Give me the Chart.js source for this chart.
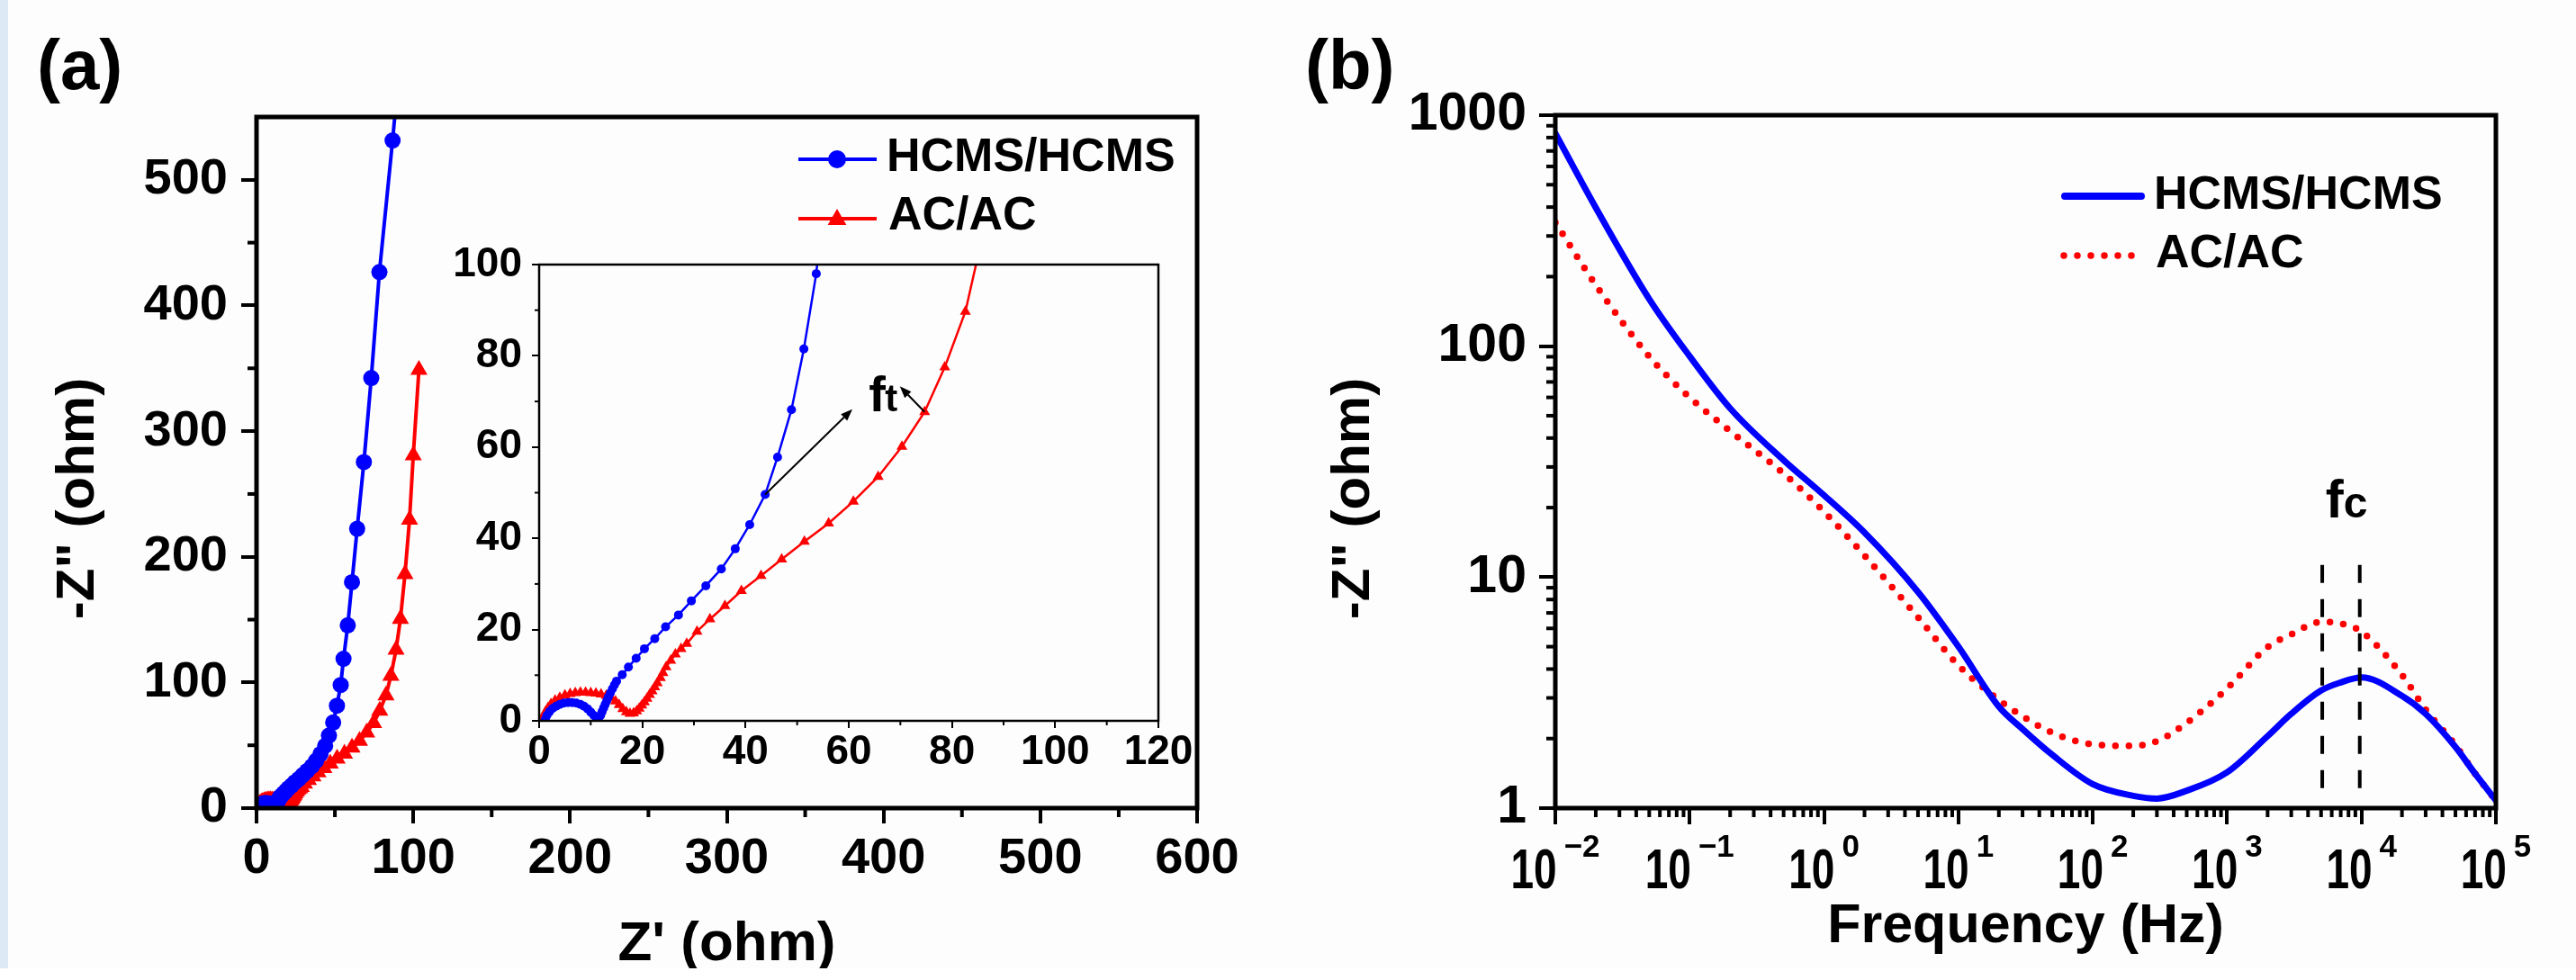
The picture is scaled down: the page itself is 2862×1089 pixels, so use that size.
<!DOCTYPE html>
<html><head><meta charset="utf-8">
<script src="https://cdn.jsdelivr.net/npm/chart.js@4.4.0/dist/chart.umd.min.js"></script>
<style>
html,body{margin:0;padding:0;background:#fff;}
#wrap{position:relative;width:2862px;height:1089px;overflow:hidden;background:#fdfdfd;}
canvas{position:absolute;top:0;}
#strip{position:absolute;left:0;top:0;width:9px;height:1089px;background:#dde9f5;}
#bottom{position:absolute;left:0;top:1076px;width:2862px;height:13px;background:#fff;}
</style></head><body>
<div id="wrap">
<canvas id="ca" width="1431" height="1089" style="left:0"></canvas>
<canvas id="ci" width="1431" height="1089" style="left:0"></canvas>
<canvas id="cb" width="1431" height="1089" style="left:1431px"></canvas>
<div id="strip"></div><div id="bottom"></div>
</div>
<script>
// ---------- data ----------
const seriesNames = ['HCMS/HCMS', 'AC/AC'];
// Nyquist (Z', -Z'')
const hcmsZre = [1.2,1.5,2.0,2.6,3.3,4.0,4.8,5.6,6.4,7.2,8.0,8.7,9.4,10.0,10.6,11.1,11.5,11.9,12.2,12.5,12.8,13.1,13.4,13.8,14.2,14.6,15.0,16.1,17.3,18.8,20.4,22.4,24.5,27.0,29.5,32.3,35.3,38.0,40.8,43.8,46.2,48.9,51.3,53.7,55.5,58.2,60.9,64.2,68.5,73.2,78.4,86.8,95.5];
const hcmsZim = [0.3,1.2,2.0,2.7,3.2,3.6,3.9,4.0,4.0,3.9,3.6,3.2,2.6,1.9,1.2,0.6,0.4,1.2,2.0,2.8,3.6,4.4,5.2,6.1,7.0,7.9,8.7,10.1,11.8,13.7,15.8,18.0,20.6,23.2,26.3,29.6,33.3,37.7,43.0,49.6,57.8,68.2,81.5,98.0,118.8,145.5,179.8,222.3,275.4,342.3,426.6,531.3,650];
const acZre = [0.5,0.8,1.2,1.7,2.3,3.1,4.0,5.0,6.0,7.0,8.0,9.0,10.0,11.0,12.0,13.0,14.0,14.8,15.5,16.2,16.9,17.6,18.3,18.9,19.4,19.9,20.4,20.9,21.4,21.9,22.4,22.9,23.5,24.0,24.6,25.5,26.4,27.5,28.6,30.6,33.1,36.0,39.2,43.0,47.0,51.4,56.1,60.9,65.7,70.3,74.7,78.6,82.6,85.7,89.0,91.8,94.7,97.6,100.0,103.6];
const acZim = [0.2,1.0,1.9,2.8,3.7,4.5,5.1,5.6,5.9,6.1,6.2,6.2,6.1,6.0,5.8,5.5,5.0,4.3,3.5,2.6,1.9,1.6,1.7,2.1,2.7,3.4,4.1,4.9,5.7,6.5,7.4,8.3,9.4,10.5,11.8,13.2,14.6,15.8,16.9,19.6,22.3,25.2,28.5,31.8,35.4,39.3,43.3,48.1,53.5,60.1,67.7,77.5,89.7,105.2,126.0,150.5,186.2,229.5,280.8,348.8];
// Bode (-Z'' vs frequency)
const freqHz = [0.01,0.02,0.05,0.1,0.2,0.5,1,2,5,10,20,30,50,100,200,300,500,1000,2000,3000,5000,7000,10000,20000,30000,50000,70000,100000];
const hcmsBode = [835,398,160,90.4,53.8,32.1,22.6,15.6,8.63,5.0,2.75,2.2,1.70,1.27,1.13,1.10,1.19,1.43,2.05,2.56,3.23,3.5,3.68,3.06,2.56,1.84,1.41,1.08];
const acBode = [343,184,90.2,60,42.9,28.1,19.2,12.4,6.7,4.15,2.94,2.5,2.12,1.89,1.86,1.95,2.34,3.3,4.98,5.65,6.4,6.3,5.8,3.77,2.67,1.87,1.41,1.08];
// ticks
const mainXTicks = [0,100,200,300,400,500,600];
const mainXMinor = [50,150,250,350,450,550];
const mainYTicks = [0,100,200,300,400,500];
const mainYMinor = [50,150,250,350,450];
const insetXTicks = [0,20,40,60,80,100,120];
const insetXMinor = [10,30,50,70,90,110];
const insetYTicks = [0,20,40,60,80,100];
const insetYMinor = [10,30,50,70,90];
const bodeXTicks = [0.01,0.1,1,10,100,1000,10000,100000];
const bodeXExp = ['\u22122','\u22121','0','1','2','3','4','5'];
const bodeYTicks = [1,10,100,1000];
const minorMult = [2,3,4,5,6,7,8,9];
// annotations (data coordinates)
const ftArrowBlue = [[43.8,49.6],[60.7,68.3]];
const ftArrowRed = [[74.7,67.7],[69.9,73.3]];
const ftPos = [63.9,67.9];
const fcFreqs = [5100,9700];
const fcRange = [1.2,11.3];
const fcPos = [5400,18.1];

// ---------- style ----------
const FAM = "'Liberation Sans', Arial, sans-serif";
const BLUE = '#0000ff', RED = '#ff0000';
const fnt = s => 'bold ' + s + 'px ' + FAM;
const ff = s => ({family: FAM, size: s, weight: 'bold'});

function seg(ctx,x1,y1,x2,y2){ctx.beginPath();ctx.moveTo(x1,y1);ctx.lineTo(x2,y2);ctx.stroke();}
function tri(ctx,x,y,r){ctx.beginPath();for(let k=0;k<3;k++){const a=k*2*Math.PI/3;const px=x+Math.sin(a)*r,py=y-Math.cos(a)*r;k?ctx.lineTo(px,py):ctx.moveTo(px,py);}ctx.closePath();ctx.fill();}
function circ(ctx,x,y,r){ctx.beginPath();ctx.arc(x,y,r,0,2*Math.PI);ctx.fill();}
function frame(ctx,a,w){ctx.save();ctx.strokeStyle='#000';ctx.lineWidth=w;ctx.strokeRect(a.left,a.top,a.right-a.left,a.bottom-a.top);ctx.restore();}
function minorX(ctx,sc,vals,y,len,w){ctx.save();ctx.strokeStyle='#000';ctx.lineWidth=w;vals.forEach(v=>{const p=sc.getPixelForValue(v);seg(ctx,p,y,p,y+len);});ctx.restore();}
function minorY(ctx,sc,vals,x,len,w){ctx.save();ctx.strokeStyle='#000';ctx.lineWidth=w;vals.forEach(v=>{const p=sc.getPixelForValue(v);seg(ctx,x,p,x-len,p);});ctx.restore();}
function vtitle(ctx,text,x,y,size){ctx.save();ctx.fillStyle='#000';ctx.font=fnt(size);ctx.translate(x,y);ctx.rotate(-Math.PI/2);ctx.textAlign='center';ctx.textBaseline='middle';ctx.fillText(text,0,0);ctx.restore();}
function label(ctx,text,x,y,size){ctx.save();ctx.fillStyle='#000';ctx.font=fnt(size);ctx.textAlign='left';ctx.textBaseline='alphabetic';ctx.fillText(text,x,y);ctx.restore();}
function arrow(ctx,x1,y1,x2,y2){ctx.save();ctx.strokeStyle='#000';ctx.fillStyle='#000';ctx.lineWidth=2;const ang=Math.atan2(y2-y1,x2-x1);const hl=13,hw=5;const bx=x2-Math.cos(ang)*hl,by=y2-Math.sin(ang)*hl;seg(ctx,x1,y1,bx,by);ctx.beginPath();ctx.moveTo(x2,y2);ctx.lineTo(bx-Math.sin(ang)*hw,by+Math.cos(ang)*hw);ctx.lineTo(bx+Math.sin(ang)*hw,by-Math.cos(ang)*hw);ctx.closePath();ctx.fill();ctx.restore();}

const common = {responsive:false, animation:false, devicePixelRatio:1, events:[], maintainAspectRatio:false,
  plugins:{legend:{display:false}, tooltip:{enabled:false}, title:{display:false}}};
function setTicks(arr){return s=>{s.ticks=arr.map(v=>({value:v}));};}
const gridOpt = (tl,w) => ({display:true, drawOnChartArea:false, drawTicks:true, tickLength:tl, lineWidth:w, color:'#000'});

// ---------- panel (a) main ----------
const plugA = {id:'plugA', afterDraw(chart){
  const {ctx, chartArea:a, scales:{x,y}} = chart;
  frame(ctx,a,5);
  minorX(ctx,x,mainXMinor,a.bottom,10,4);
  minorY(ctx,y,mainYMinor,a.left,10,4);
  label(ctx,'(a)',41,99,78);
  vtitle(ctx,'-Z" (ohm)',87,554,60);
  ctx.save();
  ctx.lineWidth=4; ctx.strokeStyle=BLUE; seg(ctx,887,177,974,177);
  ctx.fillStyle=BLUE; circ(ctx,930,177,10);
  ctx.strokeStyle=RED; seg(ctx,887,243,974,243);
  ctx.fillStyle=RED; tri(ctx,930,244,12);
  ctx.restore();
  label(ctx,seriesNames[0],985,190,52);
  label(ctx,seriesNames[1],987,255,52);
}};
new Chart(document.getElementById('ca'), {
  type:'line',
  data:{datasets:[
    {label:seriesNames[0], data:hcmsZre.map((v,i)=>({x:v,y:hcmsZim[i]})), borderColor:BLUE, backgroundColor:BLUE, borderWidth:4, pointStyle:'circle', pointRadius:9, pointBorderWidth:0, tension:0},
    {label:seriesNames[1], data:acZre.map((v,i)=>({x:v,y:acZim[i]})), borderColor:RED, backgroundColor:RED, borderWidth:4, pointStyle:'triangle', pointRadius:11, pointBorderWidth:0, tension:0}
  ]},
  options:Object.assign({}, common, {
    layout:{padding:{left:0, top:130, right:101, bottom:0}},
    scales:{
      x:{type:'linear', min:0, max:600, afterBuildTicks:setTicks(mainXTicks), afterFit:s=>{s.height=191;},
        grid:gridOpt(17,4), border:{display:false},
        ticks:{font:ff(56), color:'#000', padding:6, maxRotation:0, autoSkip:false},
        title:{display:true, text:"Z' (ohm)", font:ff(62), color:'#000', padding:{top:0,bottom:2}}},
      y:{type:'linear', min:0, max:550, afterBuildTicks:setTicks(mainYTicks), afterFit:s=>{s.width=285;},
        grid:gridOpt(17,4), border:{display:false},
        ticks:{font:ff(56), color:'#000', padding:15, autoSkip:false}}
    }
  }),
  plugins:[plugA]
});

// ---------- panel (a) inset ----------
const plugI = {id:'plugI', afterDraw(chart){
  const {ctx, chartArea:a, scales:{x,y}} = chart;
  frame(ctx,a,2.5);
  minorX(ctx,x,insetXMinor,a.bottom,5,2);
  minorY(ctx,y,insetYMinor,a.left,5,2);
  arrow(ctx,x.getPixelForValue(ftArrowBlue[0][0]),y.getPixelForValue(ftArrowBlue[0][1]),x.getPixelForValue(ftArrowBlue[1][0]),y.getPixelForValue(ftArrowBlue[1][1]));
  arrow(ctx,x.getPixelForValue(ftArrowRed[0][0]),y.getPixelForValue(ftArrowRed[0][1]),x.getPixelForValue(ftArrowRed[1][0]),y.getPixelForValue(ftArrowRed[1][1]));
  const fx=x.getPixelForValue(ftPos[0]), fy=y.getPixelForValue(ftPos[1]);
  label(ctx,'f',fx,fy,56);
  label(ctx,'t',fx+18,fy,42);
}};
new Chart(document.getElementById('ci'), {
  type:'line',
  data:{datasets:[
    {label:seriesNames[0], data:hcmsZre.map((v,i)=>({x:v,y:hcmsZim[i]})), borderColor:BLUE, backgroundColor:BLUE, borderWidth:2.5, pointStyle:'circle', pointRadius:5, pointBorderWidth:0, tension:0},
    {label:seriesNames[1], data:acZre.map((v,i)=>({x:v,y:acZim[i]})), borderColor:RED, backgroundColor:RED, borderWidth:2.5, pointStyle:'triangle', pointRadius:7, pointBorderWidth:0, tension:0}
  ]},
  options:Object.assign({}, common, {
    layout:{padding:{left:0, top:294, right:144, bottom:0}},
    scales:{
      x:{type:'linear', min:0, max:120, afterBuildTicks:setTicks(insetXTicks), afterFit:s=>{s.height=288;},
        grid:gridOpt(8,2), border:{display:false},
        ticks:{font:ff(46), color:'#000', padding:0, maxRotation:0, autoSkip:false}},
      y:{type:'linear', min:0, max:100, afterBuildTicks:setTicks(insetYTicks), afterFit:s=>{s.width=599;},
        grid:gridOpt(8,2), border:{display:false},
        ticks:{font:ff(46), color:'#000', padding:11, autoSkip:false}}
    }
  }),
  plugins:[plugI]
});

// ---------- panel (b) ----------
const plugB = {id:'plugB', afterDraw(chart){
  const {ctx, chartArea:a, scales:{x,y}} = chart;
  frame(ctx,a,5);
  const xm=[], ym=[];
  bodeXTicks.slice(0,-1).forEach(d=>minorMult.forEach(m=>xm.push(d*m)));
  bodeYTicks.slice(0,-1).forEach(d=>minorMult.forEach(m=>ym.push(d*m)));
  minorX(ctx,x,xm,a.bottom,10,4);
  minorY(ctx,y,ym,a.left,10,4);
  ctx.save(); ctx.fillStyle='#000'; ctx.textBaseline='alphabetic'; ctx.textAlign='left';
  bodeXTicks.forEach((v,i)=>{
    const px=x.getPixelForValue(v);
    ctx.font=fnt(63); const w10=ctx.measureText('10').width*0.73;
    ctx.font=fnt(35); const ws=ctx.measureText(bodeXExp[i]).width;
    const gap=8, start=px-(w10+gap+ws)/2;
    ctx.save(); ctx.translate(start,987); ctx.scale(0.73,1); ctx.font=fnt(63); ctx.fillText('10',0,0); ctx.restore();
    ctx.font=fnt(35); ctx.fillText(bodeXExp[i],start+w10+gap,952);
  });
  ctx.restore();
  label(ctx,'(b)',19,99,78);
  vtitle(ctx,'-Z" (ohm)',73,554,60);
  ctx.save(); ctx.strokeStyle='#000'; ctx.lineWidth=4; ctx.setLineDash([20,18]);
  fcFreqs.forEach(f=>{const px=x.getPixelForValue(f); seg(ctx,px,y.getPixelForValue(fcRange[1]),px,y.getPixelForValue(fcRange[0]));});
  ctx.restore();
  const cx=x.getPixelForValue(fcPos[0]), cy=y.getPixelForValue(fcPos[1]);
  label(ctx,'f',cx,cy,60); label(ctx,'c',cx+20,cy,48);
  ctx.save(); ctx.lineCap='round';
  ctx.strokeStyle=BLUE; ctx.lineWidth=8; seg(ctx,863,218,948,218);
  ctx.strokeStyle=RED; ctx.lineWidth=7.5; ctx.setLineDash([0,15]); seg(ctx,862,284,938,284);
  ctx.restore();
  label(ctx,seriesNames[0],962,232,52);
  label(ctx,seriesNames[1],964,297,52);
}};
new Chart(document.getElementById('cb'), {
  type:'line',
  data:{datasets:[
    {label:seriesNames[0], data:freqHz.map((f,i)=>({x:f,y:hcmsBode[i]})), borderColor:BLUE, borderWidth:7, pointRadius:0, cubicInterpolationMode:'monotone', borderCapStyle:'round', fill:false},
    {label:seriesNames[1], data:freqHz.map((f,i)=>({x:f,y:acBode[i]})), borderColor:RED, borderWidth:7.5, pointRadius:0, cubicInterpolationMode:'monotone', borderDash:[0,15], borderCapStyle:'round', fill:false}
  ]},
  options:Object.assign({}, common, {
    layout:{padding:{left:0, top:128, right:89, bottom:0}},
    scales:{
      x:{type:'logarithmic', min:0.01, max:100000, afterBuildTicks:setTicks(bodeXTicks), afterFit:s=>{s.height=191;},
        grid:gridOpt(18,4), border:{display:false},
        ticks:{display:false},
        title:{display:true, text:'Frequency (Hz)', font:ff(61), color:'#000', padding:{top:0,bottom:22}}},
      y:{type:'logarithmic', min:1, max:1000, afterBuildTicks:setTicks(bodeYTicks), afterFit:s=>{s.width=297;},
        grid:gridOpt(18,4), border:{display:false},
        ticks:{font:ff(59), color:'#000', padding:14, autoSkip:false, callback:v=>String(v)}}
    }
  }),
  plugins:[plugB]
});
</script>
</body></html>
